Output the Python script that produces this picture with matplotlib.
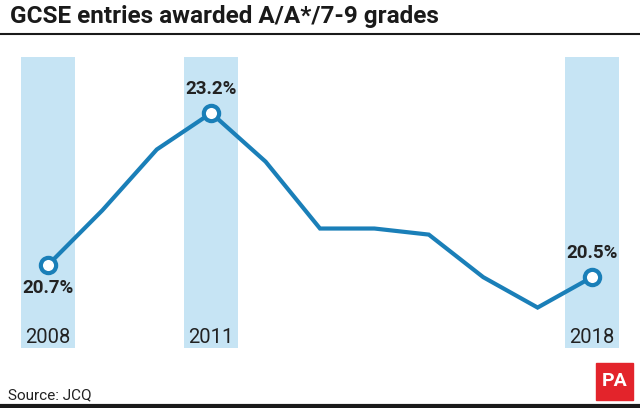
import matplotlib.pyplot as plt
from matplotlib.lines import Line2D
from matplotlib.patches import Rectangle

years = [2008, 2009, 2010, 2011, 2012, 2013, 2014, 2015, 2016, 2017, 2018]
share = [20.7, 21.6, 22.6, 23.2, 22.4, 21.3, 21.3, 21.2, 20.5, 20.0, 20.5]
highlight = [2008, 2011, 2018]

BLUE = "#1a7fb8"
BAND = "#c6e4f4"
TEXT = "#222222"
FONT = "Roboto"

fig = plt.figure(figsize=(6.4, 4.08), dpi=100)
W, H = 640, 408

# axes placed so the bands run from y=57 to y=348 px
ax = fig.add_axes([0, (H - 348) / H, 1, 291 / H])
ax.set_xlim(2007.118, 2018.882)
ax.set_ylim(19.335, 24.121)
ax.axis("off")

for yr in highlight:
    ax.axvspan(yr - 0.5, yr + 0.5, color=BAND, lw=0, zorder=0)
    ax.text(yr, 19.335 + 0.18, str(yr), ha="center", va="center",
            fontsize=14.5, color=TEXT, family=FONT)

ax.plot(years, share, color=BLUE, lw=3, solid_joinstyle="miter", zorder=2)

for yr in highlight:
    v = share[years.index(yr)]
    ax.plot(yr, v, "o", ms=11, mfc="white", mec=BLUE, mew=3, zorder=3)
    off = -0.38 if yr == 2008 else 0.4
    ax.text(yr, v + off, f"{v}%", ha="center", va="center", fontsize=13.5,
            fontweight="bold", color=TEXT, family=FONT)

# title and rules
fig.text(10 / W, 1 - 17 / H, "GCSE entries awarded A/A*/7-9 grades",
         ha="left", va="center", fontsize=17.5, fontweight="bold",
         color="#1a1a1a", family=FONT)
fig.add_artist(Line2D([0, 1], [1 - 34 / H, 1 - 34 / H], color="#1a1a1a",
                      lw=1.5, transform=fig.transFigure))
fig.add_artist(Line2D([0, 1], [1 - 406 / H, 1 - 406 / H], color="#1a1a1a",
                      lw=3, transform=fig.transFigure))

fig.text(8 / W, 1 - 395 / H, "Source: JCQ", ha="left", va="center",
         fontsize=11, color=TEXT, family=FONT)

# PA logo
fig.add_artist(Rectangle((596 / W, 1 - 400 / H), 37 / W, 37 / H,
                         color="#e3242b", transform=fig.transFigure))
fig.text(614.5 / W, 1 - 381.5 / H, "PA", ha="center", va="center",
         fontsize=14, fontweight="bold", color="white", family=FONT)

fig.savefig("out.png", dpi=100)
